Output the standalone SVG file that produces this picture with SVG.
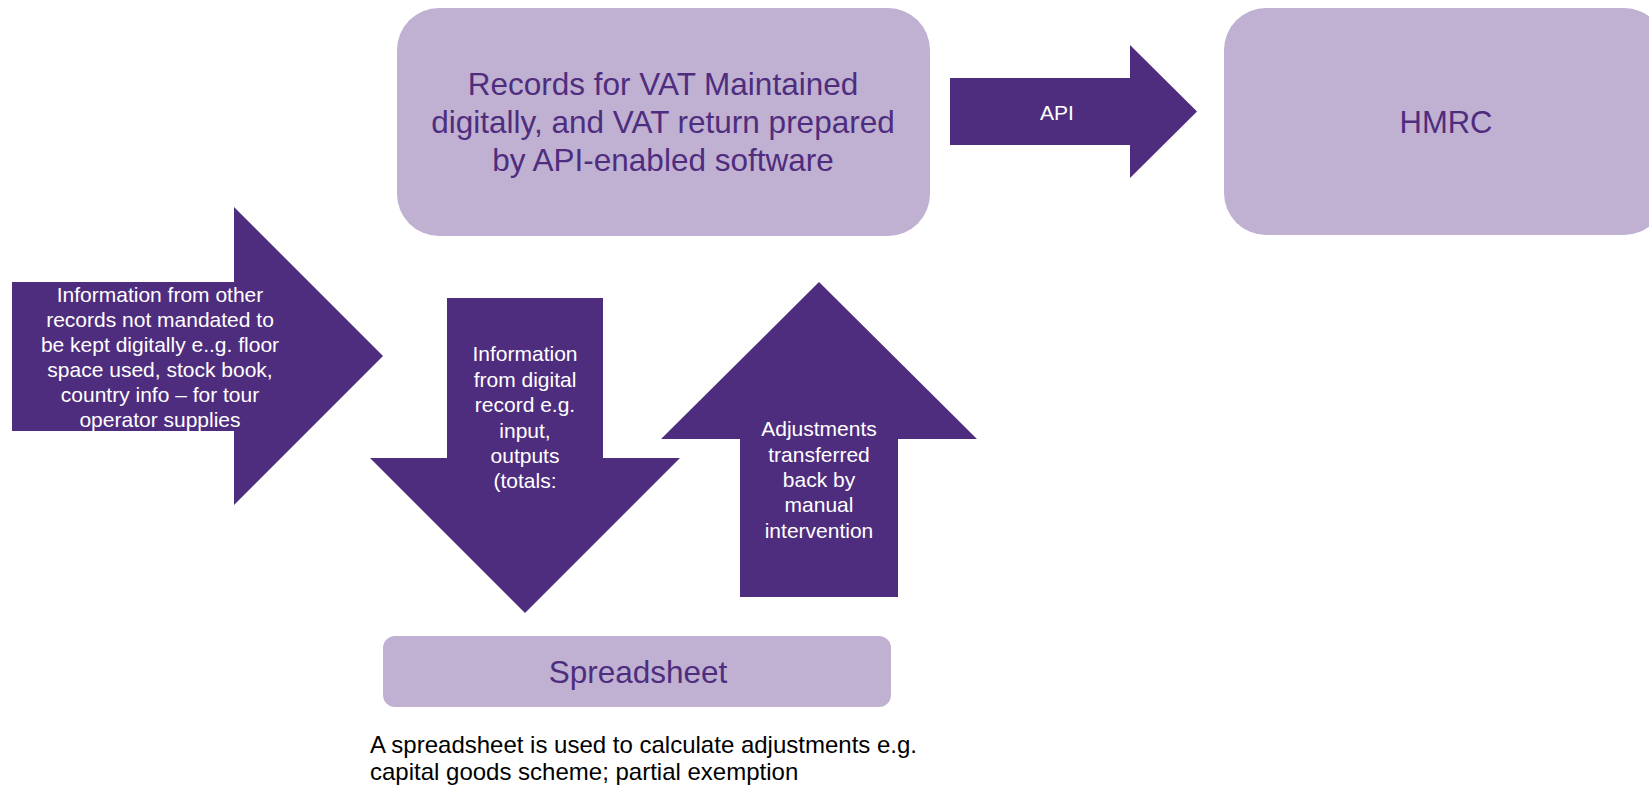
<svg xmlns="http://www.w3.org/2000/svg" width="1649" height="787" viewBox="0 0 1649 787">
<style>
.box{fill:#C0B1D2}
.arrow{fill:#4F2D7E}
.bt{font-family:"Liberation Sans",Arial,sans-serif;fill:#4F2D7E;text-anchor:middle}
.at{font-family:"Liberation Sans",Arial,sans-serif;fill:#FFFFFF;text-anchor:middle;font-size:21px}
.cap{font-family:"Liberation Sans",Arial,sans-serif;fill:#000000;font-size:24px}
</style>
<rect width="1649" height="787" fill="#FFFFFF"/>
<g id="records">
<rect class="box" x="397" y="8" width="533" height="228" rx="42" ry="42"/>
<text class="bt" font-size="31.5" x="663"><tspan x="663" y="95">Records for VAT Maintained</tspan><tspan x="663" y="133">digitally, and VAT return prepared</tspan><tspan x="663" y="171">by API-enabled software</tspan></text>
</g>
<g id="hmrc">
<rect class="box" x="1224" y="8" width="442" height="227" rx="42" ry="42"/>
<text class="bt" font-size="31" x="1446" y="133">HMRC</text>
</g>
<g id="spreadsheet">
<rect class="box" x="383" y="636" width="508" height="71" rx="12" ry="12"/>
<text class="bt" font-size="31.5" x="638" y="683">Spreadsheet</text>
</g>
<g id="caption">
<text class="cap"><tspan x="370" y="753">A spreadsheet is used to calculate adjustments e.g.</tspan><tspan x="370" y="780">capital goods scheme; partial exemption</tspan></text>
</g>
<g id="connectors">
<g id="api-arrow">
<polygon class="arrow" points="950,78 1130,78 1130,45 1197,111.5 1130,178 1130,145 950,145"/>
<text class="at" x="1057" y="120">API</text>
</g>
<g id="other-records-arrow">
<polygon class="arrow" points="12,282 234,282 234,207 383,356 234,505 234,431 12,431"/>
<text class="at"><tspan x="160" y="302">Information from other</tspan><tspan x="160" y="327">records not mandated to</tspan><tspan x="160" y="352">be kept digitally e..g. floor</tspan><tspan x="160" y="377">space used, stock book,</tspan><tspan x="160" y="402">country info – for tour</tspan><tspan x="160" y="427">operator supplies</tspan></text>
</g>
<g id="down-arrow">
<polygon class="arrow" points="447,298 603,298 603,458 680,458 525,613 370,458 447,458"/>
<text class="at"><tspan x="525" y="361">Information</tspan><tspan x="525" y="387">from digital</tspan><tspan x="525" y="412">record e.g.</tspan><tspan x="525" y="438">input,</tspan><tspan x="525" y="463">outputs</tspan><tspan x="525" y="488">(totals:</tspan></text>
</g>
<g id="up-arrow">
<polygon class="arrow" points="819,282 977,439 898,439 898,597 740,597 740,439 661,439"/>
<text class="at"><tspan x="819" y="436">Adjustments</tspan><tspan x="819" y="462">transferred</tspan><tspan x="819" y="487">back by</tspan><tspan x="819" y="512">manual</tspan><tspan x="819" y="538">intervention</tspan></text>
</g>
</g>
</svg>
